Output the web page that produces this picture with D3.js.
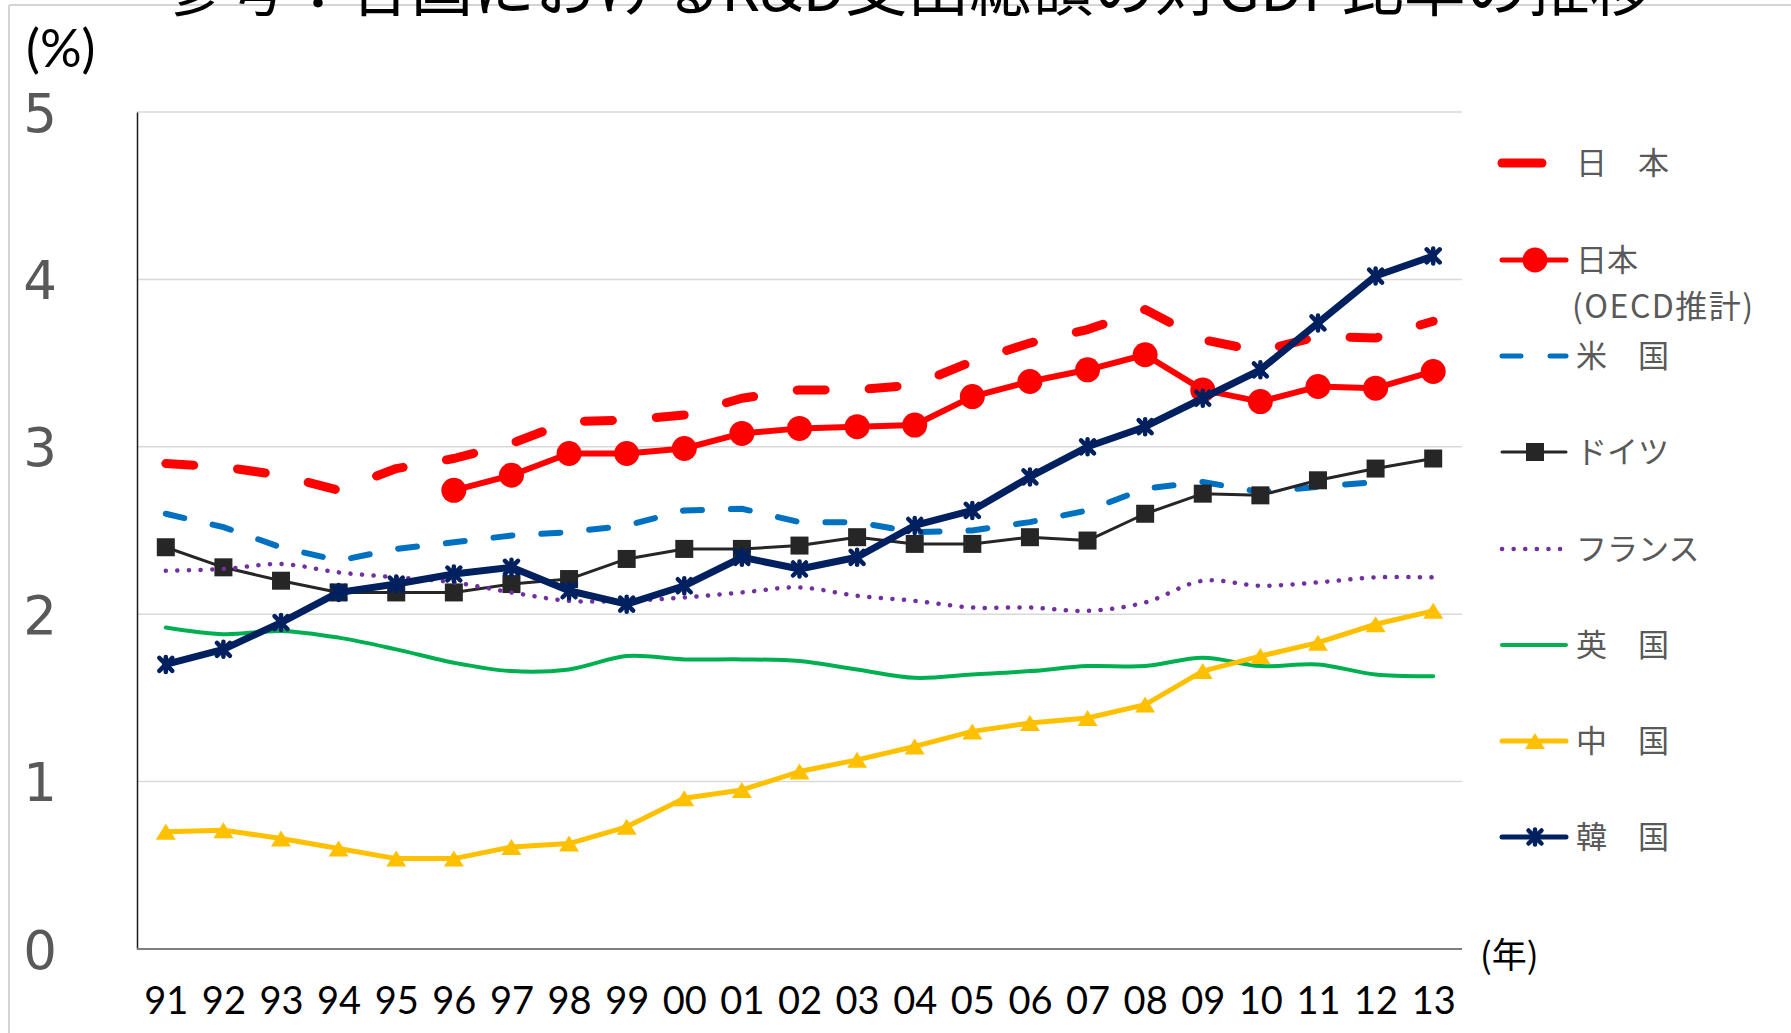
<!DOCTYPE html>
<html>
<head>
<meta charset="utf-8">
<script src="https://cdn.jsdelivr.net/npm/d3@7"></script>
<style>
  html, body { margin: 0; padding: 0; background: #fff; }
  svg { display: block; }
</style>
</head>
<body>
<svg id="chart" width="1791" height="1033"></svg>
<script>
// R&D expenditure as a share of GDP (%), 1991–2013
const years = ["91","92","93","94","95","96","97","98","99","00","01","02","03","04","05","06","07","08","09","10","11","12","13"];
const yTicks = [0, 1, 2, 3, 4, 5];

const japan     = [2.90, 2.88, 2.83, 2.74, 2.87, 2.93, 3.02, 3.15, 3.16, 3.19, 3.29, 3.34, 3.34, 3.37, 3.51, 3.62, 3.70, 3.82, 3.64, 3.57, 3.66, 3.65, 3.75];
const japanOecd = [null, null, null, null, null, 2.74, 2.83, 2.96, 2.96, 2.99, 3.08, 3.11, 3.12, 3.13, 3.30, 3.39, 3.46, 3.55, 3.34, 3.27, 3.36, 3.35, 3.45];
const usa       = [2.60, 2.52, 2.40, 2.32, 2.39, 2.43, 2.47, 2.49, 2.53, 2.62, 2.63, 2.55, 2.55, 2.49, 2.50, 2.55, 2.62, 2.75, 2.79, 2.73, 2.76, 2.79, null];
const germany   = [2.40, 2.28, 2.20, 2.13, 2.13, 2.13, 2.18, 2.21, 2.33, 2.39, 2.39, 2.41, 2.46, 2.42, 2.42, 2.46, 2.44, 2.60, 2.72, 2.71, 2.80, 2.87, 2.93];
const france    = [2.26, 2.27, 2.30, 2.25, 2.22, 2.19, 2.13, 2.08, 2.08, 2.10, 2.13, 2.16, 2.11, 2.08, 2.04, 2.04, 2.02, 2.07, 2.20, 2.17, 2.19, 2.22, 2.22];
const uk        = [1.92, 1.88, 1.90, 1.86, 1.79, 1.71, 1.66, 1.67, 1.75, 1.73, 1.73, 1.72, 1.67, 1.62, 1.64, 1.66, 1.69, 1.69, 1.74, 1.69, 1.70, 1.64, 1.63];
const china     = [0.70, 0.71, 0.66, 0.60, 0.54, 0.54, 0.61, 0.63, 0.73, 0.90, 0.95, 1.06, 1.13, 1.21, 1.30, 1.35, 1.38, 1.46, 1.66, 1.75, 1.83, 1.94, 2.02];
const korea     = [1.70, 1.79, 1.95, 2.13, 2.18, 2.24, 2.28, 2.14, 2.06, 2.17, 2.34, 2.27, 2.34, 2.53, 2.62, 2.82, 3.00, 3.12, 3.29, 3.46, 3.74, 4.02, 4.14];

const seriesNames = ["日\u3000本", "日本", "米\u3000国", "ドイツ", "フランス", "英\u3000国", "中\u3000国", "韓\u3000国"];

const series = [
  { name: seriesNames[0], values: japan,     color: "#ff0000", width: 9,   dash: "28,44",    marker: null,       curve: d3.curveLinear, legendSolidDash: true },
  { name: seriesNames[1], values: japanOecd, color: "#ff0000", width: 6,   dash: null,       marker: "circle",   curve: d3.curveLinear, sub: "(OECD推計)" },
  { name: seriesNames[2], values: usa,       color: "#0070c0", width: 6,   dash: "19,29",    marker: null,       curve: d3.curveLinear },
  { name: seriesNames[3], values: germany,   color: "#262626", width: 3,   dash: null,       marker: "square",   curve: d3.curveLinear },
  { name: seriesNames[4], values: france,    color: "#7030a0", width: 4.5, dash: "0.1,11.5", marker: null,       curve: d3.curveCatmullRom.alpha(0.5) },
  { name: seriesNames[5], values: uk,        color: "#00b050", width: 4,   dash: null,       marker: null,       curve: d3.curveCatmullRom.alpha(0.5) },
  { name: seriesNames[6], values: china,     color: "#ffc000", width: 5,   dash: null,       marker: "triangle", curve: d3.curveLinear },
  { name: seriesNames[7], values: korea,     color: "#002060", width: 7,   dash: null,       marker: "star",     curve: d3.curveLinear }
];

const svg = d3.select("#chart");

const plot = { left: 137, right: 1462, top: 112, bottom: 949 };

const x = d3.scalePoint().domain(years).range([plot.left, plot.right]).padding(0.5);
const y = d3.scaleLinear().domain([0, 5]).range([plot.bottom, plot.top]);

// slide frame edges
svg.append("line").attr("x1", 9).attr("x2", 1791).attr("y1", 5).attr("y2", 5)
  .attr("stroke", "#d4d4d4").attr("stroke-width", 2);
svg.append("line").attr("x1", 9).attr("x2", 9).attr("y1", 5).attr("y2", 1033)
  .attr("stroke", "#d4d4d4").attr("stroke-width", 2);

// title (runs off the top edge of the slide)
svg.append("text")
  .attr("x", 163).attr("y", 11)
  .attr("font-family", "'Noto Sans CJK JP', sans-serif")
  .attr("font-size", 62)
  .attr("fill", "#000")
  .text("参考：各国におけるR&D支出総額の対GDP比率の推移");

// gridlines
svg.append("g")
  .selectAll("line")
  .data(yTicks.filter(d => d > 0))
  .join("line")
  .attr("x1", plot.left).attr("x2", plot.right)
  .attr("y1", d => y(d)).attr("y2", d => y(d))
  .attr("stroke", "#d9d9d9").attr("stroke-width", 1.5);

// y axis
const yAxis = svg.append("g")
  .attr("transform", `translate(${plot.left},0)`)
  .call(d3.axisLeft(y).tickValues(yTicks).tickSize(0).tickFormat(d3.format("d")));
yAxis.select(".domain").attr("stroke", "#1a1a1a").attr("stroke-width", 1.5);
yAxis.selectAll("text")
  .attr("x", 40 - plot.left)
  .attr("dy", "0.36em")
  .attr("text-anchor", "middle")
  .attr("font-family", "'DejaVu Sans', sans-serif")
  .attr("font-size", 53)
  .attr("fill", "#595959");

// x axis
const xAxis = svg.append("g")
  .attr("transform", `translate(0,${plot.bottom})`)
  .call(d3.axisBottom(x).tickSize(0).tickPadding(38));
xAxis.select(".domain").attr("stroke", "#7f7f7f").attr("stroke-width", 2)
  .attr("d", `M${plot.left},0H${plot.right}`);
xAxis.selectAll("text")
  .attr("font-family", "Lato, sans-serif")
  .attr("font-size", 38)
  .attr("fill", "#000");

// axis unit labels
svg.append("text")
  .attr("x", 26).attr("y", 67)
  .attr("font-family", "Lato, sans-serif")
  .attr("font-size", 52)
  .attr("fill", "#000")
  .text("(%)");
svg.append("text")
  .attr("x", 1480).attr("y", 968)
  .attr("font-family", "'Noto Sans CJK JP', sans-serif")
  .attr("font-size", 35)
  .attr("fill", "#000")
  .text("(年)");

// marker shapes
function drawMarker(g, type, color, cx, cy) {
  if (type === "circle") {
    g.append("circle").attr("cx", cx).attr("cy", cy).attr("r", 12.5).attr("fill", color);
  } else if (type === "square") {
    g.append("rect").attr("x", cx - 9).attr("y", cy - 9).attr("width", 18).attr("height", 18).attr("fill", color);
  } else if (type === "triangle") {
    g.append("path")
      .attr("d", `M${cx},${cy - 8}L${cx + 10},${cy + 8}L${cx - 10},${cy + 8}Z`)
      .attr("fill", color);
  } else if (type === "star") {
    const s = 6.5;
    g.append("path")
      .attr("d", `M${cx - s},${cy - s}L${cx + s},${cy + s}M${cx + s},${cy - s}L${cx - s},${cy + s}M${cx},${cy - s - 1}L${cx},${cy + s + 1}`)
      .attr("stroke", color).attr("stroke-width", 4.5).attr("stroke-linecap", "round").attr("fill", "none");
  }
}

// series lines and markers
const lineGen = (curve) => d3.line()
  .defined(d => d.v != null)
  .x(d => x(d.year))
  .y(d => y(d.v))
  .curve(curve);

const marksG = svg.append("g");
series.forEach(s => {
  const pts = years.map((yr, i) => ({ year: yr, v: s.values[i] }));
  const g = marksG.append("g");
  g.append("path")
    .datum(pts)
    .attr("d", lineGen(s.curve))
    .attr("fill", "none")
    .attr("stroke", s.color)
    .attr("stroke-width", s.width)
    .attr("stroke-linecap", "round")
    .attr("stroke-linejoin", "round")
    .attr("stroke-dasharray", s.dash);
  if (s.marker) {
    pts.filter(p => p.v != null).forEach(p => drawMarker(g, s.marker, s.color, x(p.year), y(p.v)));
  }
});

// legend
const legendY = [163, 260, 356, 452, 549, 645, 741, 837];
const lg = svg.append("g");
series.forEach((s, i) => {
  const ly = legendY[i];
  const x1 = 1502, x2 = 1566;
  lg.append("line")
    .attr("x1", x1).attr("x2", s.legendSolidDash ? 1542 : x2)
    .attr("y1", ly).attr("y2", ly)
    .attr("stroke", s.color)
    .attr("stroke-width", s.legendSolidDash ? 9 : Math.min(s.width, 5))
    .attr("stroke-linecap", "round")
    .attr("stroke-dasharray", s.legendSolidDash ? null : s.dash);
  if (s.marker) drawMarker(lg, s.marker, s.color, 1535, ly);
  lg.append("text")
    .attr("x", 1576).attr("y", ly)
    .attr("dy", "0.35em")
    .attr("font-family", "'Noto Sans CJK JP', sans-serif")
    .attr("font-size", 31)
    .attr("fill", "#595959")
    .text(s.name);
  if (s.sub) {
    lg.append("text")
      .attr("x", 1572).attr("y", ly + 47)
      .attr("dy", "0.35em")
      .attr("font-family", "'Noto Sans CJK JP', sans-serif")
      .attr("font-size", 32)
      .attr("letter-spacing", 1.5)
      .attr("fill", "#595959")
      .text(s.sub);
  }
});
</script>
</body>
</html>
